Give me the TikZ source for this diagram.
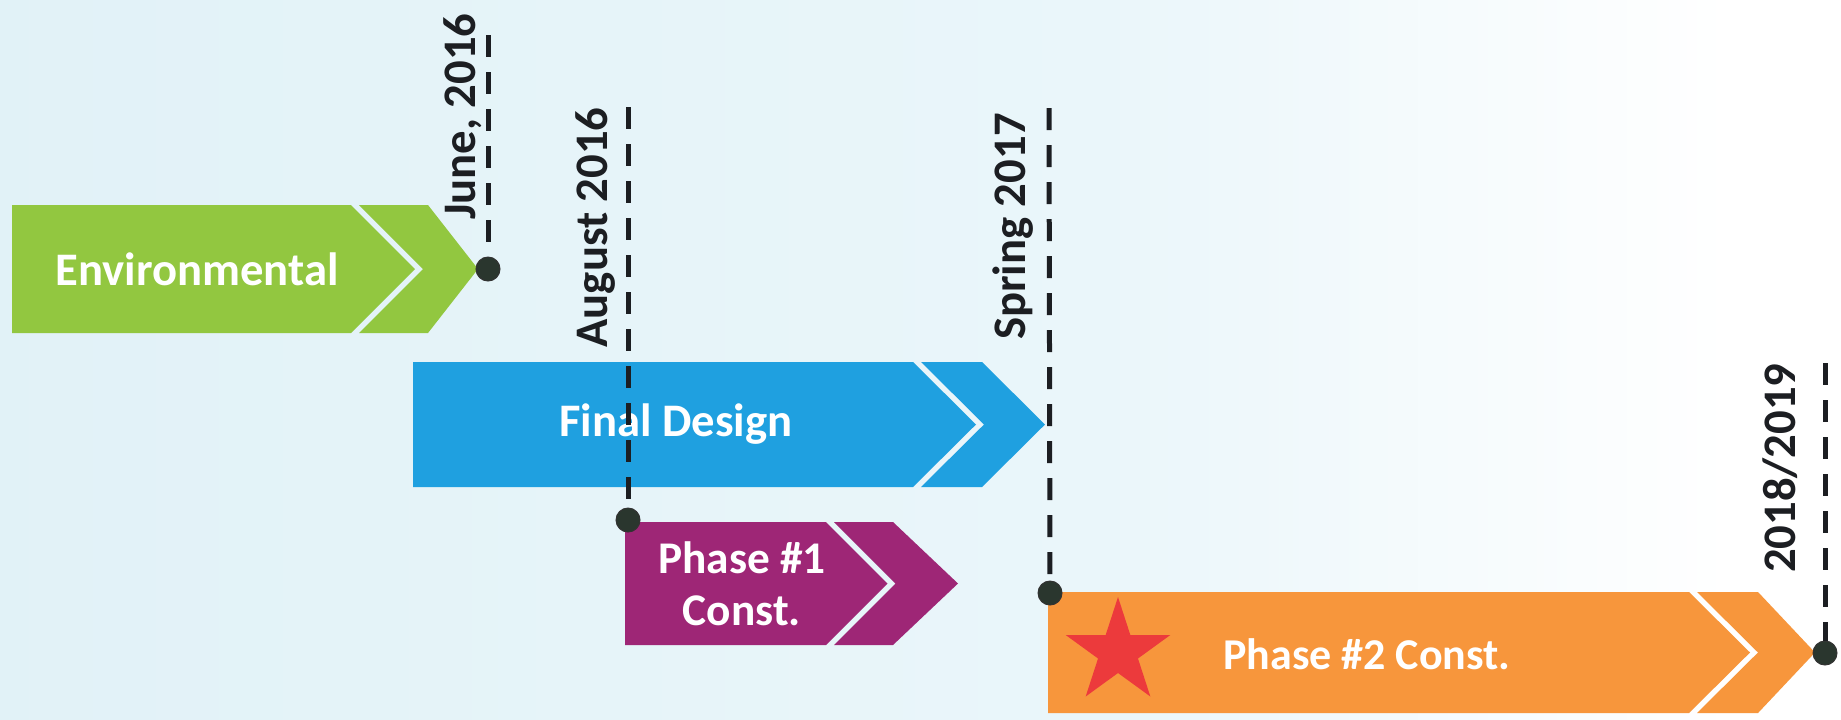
\documentclass[tikz,border=0pt]{standalone}
\usepackage{fontspec}
\setmainfont{Carlito}

\definecolor{bgleft}{RGB}{218,238,245}
\definecolor{bgmid}{RGB}{234,246,250}
\definecolor{envgreen}{RGB}{146,199,64}
\definecolor{designblue}{RGB}{31,160,224}
\definecolor{phaseonepurple}{RGB}{158,38,118}
\definecolor{phasetwoorange}{RGB}{247,150,60}
\definecolor{starred}{RGB}{236,58,60}
\definecolor{dotdark}{RGB}{42,54,46}
\definecolor{labeldark}{RGB}{28,30,34}

\pgfdeclarehorizontalshading{bgshade}{100bp}{color(0bp)=(bgleft); color(55bp)=(bgmid); color(72bp)=(white); color(100bp)=(white)}

\tikzset{every picture/.style={line width=0.75pt}}
\tikzset{
  mdot/.style={circle,fill=dotdark,draw=black!80,line width=0.75,minimum size=18pt,inner sep=0pt},
  datedash/.style={draw=labeldark,line width=3.75,dash pattern={on 16.5pt off 11.25pt}},
  datelabel/.style={rotate=90,anchor=base east,inner sep=0pt,text=labeldark,font=\bfseries\fontsize{35}{40}\selectfont},
  boxtext/.style={inner sep=0pt,text=white,align=center,font=\bfseries\fontsize{35}{39}\selectfont},
}

\begin{document}
\begin{tikzpicture}[x=0.75pt,y=0.75pt,yscale=-1,xscale=1]
\useasboundingbox (0,0) rectangle (1841,719);
%Background
\shade [shading=bgshade] (0,0) rectangle (1841,719);

%Shape: Chevron Environmental
\fill [envgreen] (12,205) -- (351,205) -- (415,269) -- (351,333) -- (12,333) -- cycle ;
\fill [envgreen] (359,205) -- (428,205) -- (478,269) -- (428,333) -- (359,333) -- (423,269) -- cycle ;
%Shape: Chevron Final Design
\fill [designblue] (413,362) -- (913,362) -- (976,424.5) -- (913,487) -- (413,487) -- cycle ;
\fill [designblue] (921,362) -- (982,362) -- (1045,424.5) -- (982,487) -- (921,487) -- (984,424.5) -- cycle ;
%Shape: Chevron Phase 1
\fill [phaseonepurple] (625,522) -- (826,522) -- (887.5,583.5) -- (826,645) -- (625,645) -- cycle ;
\fill [phaseonepurple] (834,522) -- (893,522) -- (958,583.5) -- (893,645) -- (834,645) -- (895.5,583.5) -- cycle ;
%Shape: Chevron Phase 2
\fill [phasetwoorange] (1048,592) -- (1689,592) -- (1750,652.5) -- (1689,713) -- (1048,713) -- cycle ;
\fill [phasetwoorange] (1697,592) -- (1758,592) -- (1815,652.5) -- (1758,713) -- (1697,713) -- (1758,652.5) -- cycle ;
%Shape: Star
\fill [starred] (1118,652) +(-90:55) -- +(-54:21) -- +(-18:55) -- +(18:21) -- +(54:55) -- +(90:21) -- +(126:55) -- +(162:21) -- +(198:55) -- +(234:21) -- cycle ;

% Text Node
\draw (197,269) node (envtxt) [boxtext] {Environmental};
% Text Node
\draw (676,424) node (designtxt) [boxtext] {Final Design};
% Text Node
\draw (742,584) node (phaseonetxt) [boxtext,font=\bfseries\fontsize{34}{39}\selectfont] {Phase \#1\\Const.};
% Text Node
\draw (1367,654) node (phasetwotxt) [boxtext,font=\bfseries\fontsize{33}{39}\selectfont] {Phase \#2 Const.};

%Milestones
\coordinate (junetop) at (488,35);
\coordinate (augtop) at (628,107);
\coordinate (springtop) at (1049,108);
\coordinate (endtop) at (1825,363);
\draw (488,269) node (june) [mdot] {};
\draw (628,520) node (aug) [mdot] {};
\draw (1050,593) node (spring) [mdot] {};
\draw (1825,653) node (finish) [mdot] {};
\draw [datedash] (junetop) -- (june) ;
\draw [datedash] (augtop) -- (aug) ;
\draw [datedash] (springtop) -- (spring) ;
\draw [datedash] (endtop) -- (finish) ;

% Text Node
\draw (475,13) node (junelbl) [datelabel] {June, 2016};
% Text Node
\draw (607,107) node (auglbl) [datelabel] {August 2016};
% Text Node
\draw (1025,112) node (springlbl) [datelabel] {Spring 2017};
% Text Node
\draw (1795,363) node (endlbl) [datelabel] {2018/2019};
\end{tikzpicture}
\end{document}
